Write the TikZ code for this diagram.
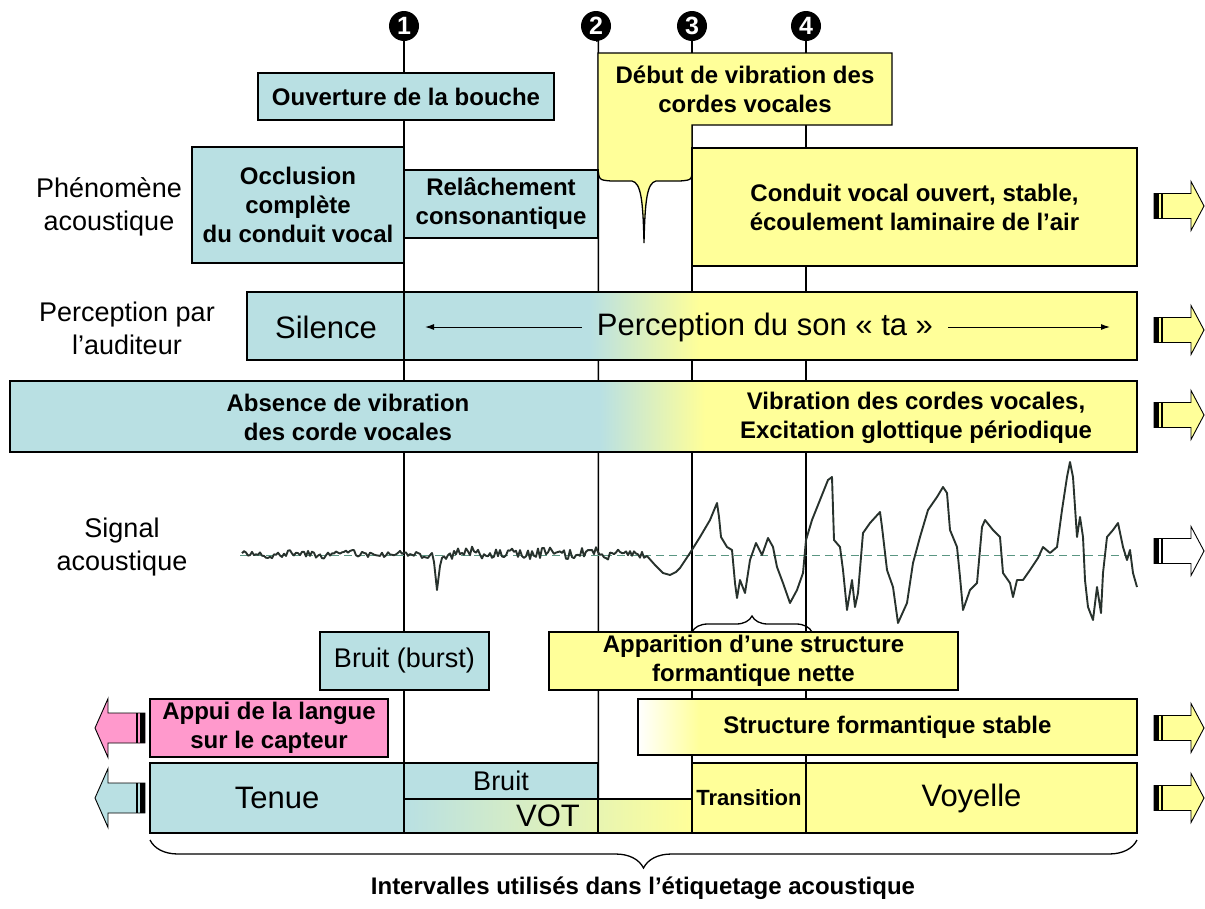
\documentclass[tikz,border=0pt]{standalone}
\usepackage{fontspec}
\setmainfont{Liberation Sans}
\usetikzlibrary{arrows.meta, decorations.pathreplacing, positioning}

\definecolor{tealc}{RGB}{185,224,227}
\definecolor{yelc}{RGB}{255,255,153}
\definecolor{pinkc}{RGB}{255,153,204}
\definecolor{dashc}{RGB}{90,150,130}
\definecolor{sigc}{RGB}{40,50,45}

\tikzset{
  bord/.style={line width=1.3pt},
  tbox/.style={draw, bord, fill=tealc, outer sep=0pt, inner sep=1pt, align=center,
    anchor=north west, font=\bfseries\fontsize{24}{29}\selectfont},
  ybox/.style={tbox, fill=yelc},
  boldtxt/.style={align=center, font=\bfseries\fontsize{24}{29}\selectfont},
  plain/.style={align=center, font=\fontsize{27}{33}\selectfont},
  big/.style={font=\fontsize{31}{36}\selectfont},
  marker/.style={circle, fill=black, text=white, inner sep=0pt, minimum size=30pt,
    font=\bfseries\fontsize{25}{25}\selectfont},
  vline/.style={line width=1.5pt},
  sig/.style={line width=1.9pt, color=sigc, line join=round},
  pics/blockarrow/.style={code={
    \draw[line width=0.9pt, fill=#1] (0,-12.5) -- (37,-12.5) -- (37,-24.5) -- (50,0)
      -- (37,24.5) -- (37,12.5) -- (0,12.5) -- cycle;
    \fill (0,-12.5) rectangle (5,12.5);
    \draw[line width=1.3pt] (8,-12.5) -- (8,12.5);
  }}
}

\begin{document}
\begin{tikzpicture}[x=1pt, y=-1pt]
\useasboundingbox (0,0) rectangle (1205,908);
\pgfmathsetseed{7}

% markers and event lines
\coordinate (bot) at (0,833);
\node[marker] (m1) at (404,26) {1};
\node[marker] (m2) at (596,26) {2};
\node[marker] (m3) at (692,26) {3};
\node[marker] (m4) at (806,26) {4};
\foreach \m in {m1,m3,m4}
  \draw[vline] (\m.south) -- (\m |- bot);
\coordinate (l2) at (598.4,40);
\draw[vline] (m2.south) -- (l2) -- (l2 |- bot);

% top: articulation
\node[tbox, minimum width=296pt, minimum height=47pt] (ouv) at (258,73) {Ouverture de la bouche};
\draw[bord, fill=yelc] (598,53) -- (892,53) -- (892,125) -- (692,125) -- (692,168)
  .. controls (692,180) .. (680,181) -- (656,181)
  .. controls (647,183) and (645,200) .. (644,243)
  .. controls (643,200) and (641,183) .. (632,181) -- (611,181)
  .. controls (599,180) .. (598,168) -- cycle;
\node[boldtxt] (debut) at (745,89) {Début de vibration des\\cordes vocales};

% phenomene acoustique
\node[plain] (phen) at (109,207) {Phénomène\\acoustique};
\node[tbox, minimum width=212pt, minimum height=116pt] (occl) at (192,147) {Occlusion\\complète\\du conduit vocal};
\node[tbox, minimum width=194pt, minimum height=68pt] (relach) at (404,170) {Relâchement\\consonantique};
\node[ybox, minimum width=445pt, minimum height=118pt] (ouvert) at (692,148) {Conduit vocal ouvert, stable,\\écoulement laminaire de l’air};

% perception
\node[plain] (percl) at (127,328) {Perception par\\l’auditeur};
\fill[tealc] (247,292) rectangle (590,360);
\shade[left color=tealc, right color=yelc] (590,292) rectangle (700,360);
\fill[yelc] (700,292) rectangle (1137,360);
\draw[bord] (247,292) rectangle (1137,360);
\draw[bord] (404,292) -- (404,360);
\node[big] (sil) at (326,327) {Silence};
\node[big, inner xsep=15pt] (perc) at (765,327) {Perception du son « ta »};
\coordinate (pl) at (425,327);
\coordinate (pr) at (1110,327);
\draw[-{Latex[length=9pt,width=6pt]}, line width=1pt] (perc.west) -- (pl);
\draw[-{Latex[length=9pt,width=6pt]}, line width=1pt] (perc.east) -- (pr);

% vibration
\fill[tealc] (10,381) rectangle (600,452);
\shade[left color=tealc, right color=yelc] (600,381) rectangle (705,452);
\fill[yelc] (705,381) rectangle (1137,452);
\draw[bord] (10,381) rectangle (1137,452);
\node[boldtxt] (abs) at (348,417) {Absence de vibration\\des corde vocales};
\node[boldtxt] (vib) at (916,418) {Vibration des cordes vocales,\\Excitation glottique périodique};

% signal
\node[plain] (sigl) at (122,547) {Signal\\acoustique};
\draw[dashed, dashc, line width=1pt, dash pattern=on 8pt off 5pt] (240,555) -- (1137,555);
\draw[sig] plot[domain=242:432, samples=96] (\x, {554 + 1.5*sin(7*\x) + 3*rand})
  -- (434,562) -- (437,590) -- (440,566)
  -- plot[domain=442:644, samples=102] (\x, {553 + 1.5*sin(9*\x) + 5*rand})
  -- (647,556) -- (655,565) -- (663,573) -- (670,575) -- (676,572) -- (680,568)
  -- (690,553) -- (700,537) -- (710,520) -- (717,503) -- (719,517) -- (721,537)
  -- (727,547) -- (732,550) -- (735,583) -- (737,598) -- (740,580) -- (745,593)
  -- (750,560) -- (756,543) -- (762,555) -- (768,538) -- (773,547) -- (777,567)
  -- (783,583) -- (790,603) -- (797,590) -- (803,573) -- (806,540) -- (812,520)
  -- (820,500) -- (828,480) -- (832,477) -- (834,540) -- (840,547) -- (843,570)
  -- (847,610) -- (852,580) -- (855,607) -- (858,593) -- (863,533) -- (870,523)
  -- (880,512) -- (882,527) -- (887,570) -- (893,587) -- (898,623) -- (907,603)
  -- (913,563) -- (920,537) -- (928,510) -- (937,497) -- (943,487) -- (947,493)
  -- (950,530) -- (957,547) -- (960,577) -- (963,610) -- (970,590) -- (977,583)
  -- (982,527) -- (985,520) -- (993,530) -- (1000,537) -- (1003,573) -- (1010,583)
  -- (1013,597) -- (1017,580) -- (1023,580) -- (1030,570) -- (1038,558) -- (1043,547)
  -- (1050,553) -- (1057,547) -- (1062,510) -- (1067,477) -- (1070,462) -- (1073,477)
  -- (1077,537) -- (1080,517) -- (1083,537) -- (1085,580) -- (1088,607) -- (1093,620)
  -- (1097,587) -- (1101,613) -- (1103,573) -- (1107,537) -- (1113,530) -- (1118,523)
  -- (1123,547) -- (1127,560) -- (1130,550) -- (1133,573) -- (1137,587);

% acoustic events
\node[tbox, font=\fontsize{27}{33}\selectfont, minimum width=169pt, minimum height=58pt] (burst) at (320,632) {Bruit (burst)};
\node[ybox, minimum width=409pt, minimum height=58pt] (appar) at (549,632) {Apparition d’une structure\\formantique nette};
\draw[bord, decorate, decoration={brace, amplitude=16pt}] (692,632) -- (812,632);

\node[tbox, fill=pinkc, minimum width=238pt, minimum height=58pt] (appui) at (150,699) {Appui de la langue\\sur le capteur};
\shade[left color=white, right color=yelc] (638,699) rectangle (700,755);
\fill[yelc] (700,699) rectangle (1137,755);
\node[tbox, fill=none, minimum width=499pt, minimum height=56pt] (stable) at (638,699) {Structure formantique stable};

% intervals
\node[tbox, font=\fontsize{31}{36}\selectfont, minimum width=254pt, minimum height=70pt] (tenue) at (150,763) {Tenue};
\node[tbox, font=\fontsize{27}{30}\selectfont, minimum width=194pt, minimum height=36pt] (bruit) at (404,763) {Bruit};
\shade[left color=tealc, right color=yelc] (404,799) rectangle (692,833);
\node[tbox, fill=none, font=\fontsize{31}{34}\selectfont, minimum width=288pt, minimum height=34pt] (vot) at (404,799) {VOT};
\draw[bord] (bruit.south east) -- (vot.south -| bruit.east);
\node[ybox, font=\bfseries\fontsize{22}{24}\selectfont, minimum width=114pt, minimum height=70pt] (trans) at (692,763) {Transition};
\node[ybox, font=\fontsize{31}{36}\selectfont, minimum width=331pt, minimum height=70pt] (voy) at (806,763) {Voyelle};

\draw[bord, decorate, decoration={brace, amplitude=28pt}] (1137,840) -- (150,840);
\node[boldtxt] (interv) at (643,888) {Intervalles utilisés dans l’étiquetage acoustique};

% continuation arrows
\foreach \y/\c in {206/yelc, 330/yelc, 415/yelc, 551/white, 728/yelc, 798/yelc}
  \pic at (1154,\y) {blockarrow=\c};
\pic[xscale=-1, yscale=1.2] at (145,728) {blockarrow=pinkc};
\pic[xscale=-1, yscale=1.2] at (145,798) {blockarrow=tealc};
\end{tikzpicture}
\end{document}
